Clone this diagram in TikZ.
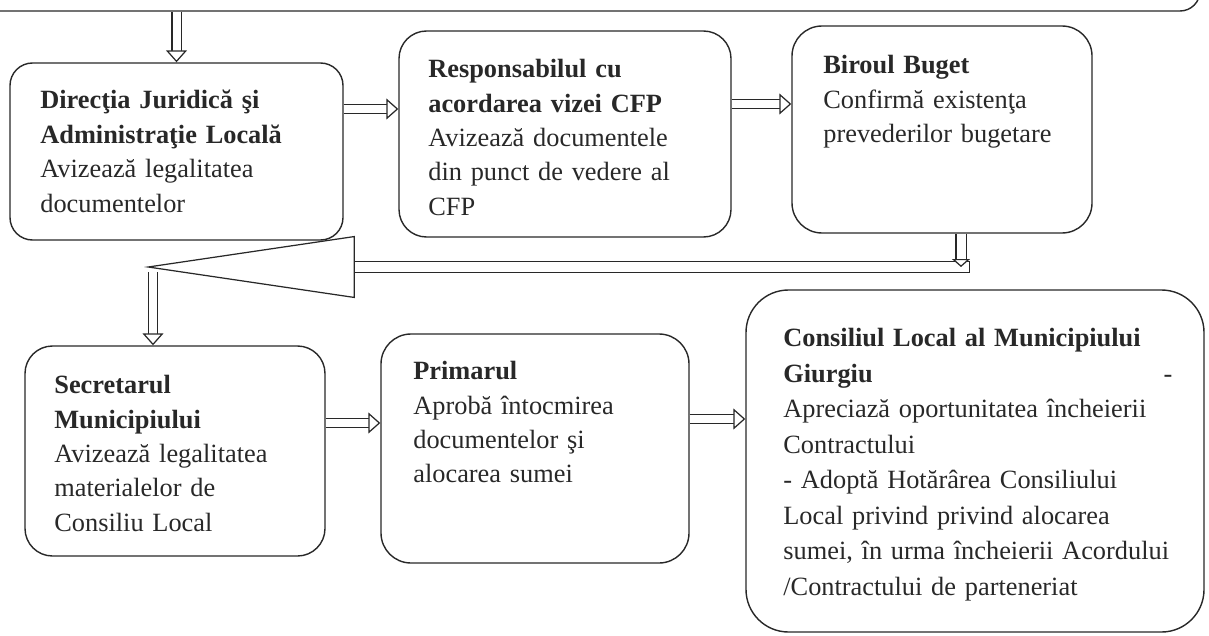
\documentclass[tikz,border=0pt]{standalone}
\usepackage{fontspec}
\setmainfont{Liberation Serif}
\usetikzlibrary{arrows.meta, fit, calc}
\definecolor{ink}{RGB}{40, 40, 40}

\tikzset{
  box/.style={draw=ink, line width=0.8pt, rounded corners=0.55cm, inner sep=0pt},
  txt/.style={anchor=north west, inner sep=0pt, align=left, text width=#1, text=ink},
  flow/.style={draw=ink, line width=0.7pt, double, double distance=0.16cm,
    -{Triangle[fill=white, length=0.24cm, width=0.42cm, line width=0.7pt]}}
}

\begin{document}
\begin{tikzpicture}[x=0.02cm, y=-0.02cm, font=\fontsize{15}{19.6}\selectfont]
  \useasboundingbox (0,0) rectangle (1209,635);
  \clip (0,0) rectangle (1209,635);

  % Top box (cut by the page)
  \node[box, rounded corners=0.4cm, fit={(-40,-150) (1200,11)}] (top) {};

  % Row 1
  \node[box, rounded corners=0.45cm, fit={(10,63) (343,240)}] (jur) {};
  \node[box, fit={(399,31) (731,237)}] (cfp) {};
  \node[box, rounded corners=0.6cm, fit={(792,26) (1092,233)}] (buget) {};

  \node[txt=6cm] (jurT) at (40,90)
    {\textbf{Direcţia Juridică şi}\\ \textbf{Administraţie Locală}\\ Avizează legalitatea\\ documentelor};
  \node[txt=6cm] (cfpT) at (428,59)
    {\textbf{Responsabilul cu}\\ \textbf{acordarea vizei CFP}\\ Avizează documentele\\ din punct de vedere al\\ CFP};
  \node[txt=5.6cm] (bugetT) at (823,55)
    {\textbf{Biroul Buget}\\ Confirmă existenţa\\ prevederilor bugetare};

  % Row 2
  \node[box, fit={(25,346) (325,556)}] (secr) {};
  \node[box, rounded corners=0.6cm, fit={(381,334) (689,563)}] (prim) {};
  \node[box, rounded corners=0.85cm, fit={(746,290) (1204,632)}] (cons) {};

  \node[txt=5.5cm] (secrT) at (54,375)
    {\textbf{Secretarul}\\ \textbf{Municipiului}\\ Avizează legalitatea\\ materialelor de\\ Consiliu Local};
  \node[txt=5.6cm] (primT) at (413,361)
    {\textbf{Primarul}\\ Aprobă întocmirea\\ documentelor şi\\ alocarea sumei};
  \node[txt=7.78cm, font=\fontsize{15}{20.2}\selectfont] (consT) at (783,328)
    {\textbf{Consiliul Local al Municipiului}\\ \textbf{Giurgiu}\hfill -\\ Apreciază oportunitatea încheierii\\ Contractului\\
     - Adoptă Hotărârea Consiliului\\ Local privind privind alocarea\\ sumei, în urma încheierii Acordului\\ /Contractului de parteneriat};

  % Arrows along the rows
  \draw[flow] (jur.north |- top.south) -- (jur.north);
  \draw[flow] (jur.east |- 0,109) -- (cfp.west |- 0,109);
  \draw[flow] (cfp.east |- 0,104) -- (buget.west |- 0,104);
  \draw[flow] (secr.east |- 0,423) -- (prim.west |- 0,423);
  \draw[flow] (prim.east |- 0,419) -- (cons.west |- 0,419);

  % Return arrow from Biroul Buget to Secretarul
  \coordinate (back) at (970,267);
  \coordinate (tip) at (144,267);
  \coordinate (drop) at (961,267);
  \coordinate (turn) at (153,272);
  \draw[flow] (turn) -- (turn |- secr.north);
  \draw[flow, double distance=0.2cm,
    {Bar[width=0.24cm, line width=0.7pt]}-{Triangle[fill=white, length=4.22cm, width=1.24cm, line width=0.7pt]}]
    (back) -- (tip);
  \draw[flow, double distance=0.18cm,
    -{Triangle[fill=white, length=0.16cm, width=0.36cm, line width=0.7pt]}]
    (buget.south -| drop) -- (drop);
\end{tikzpicture}
\end{document}
